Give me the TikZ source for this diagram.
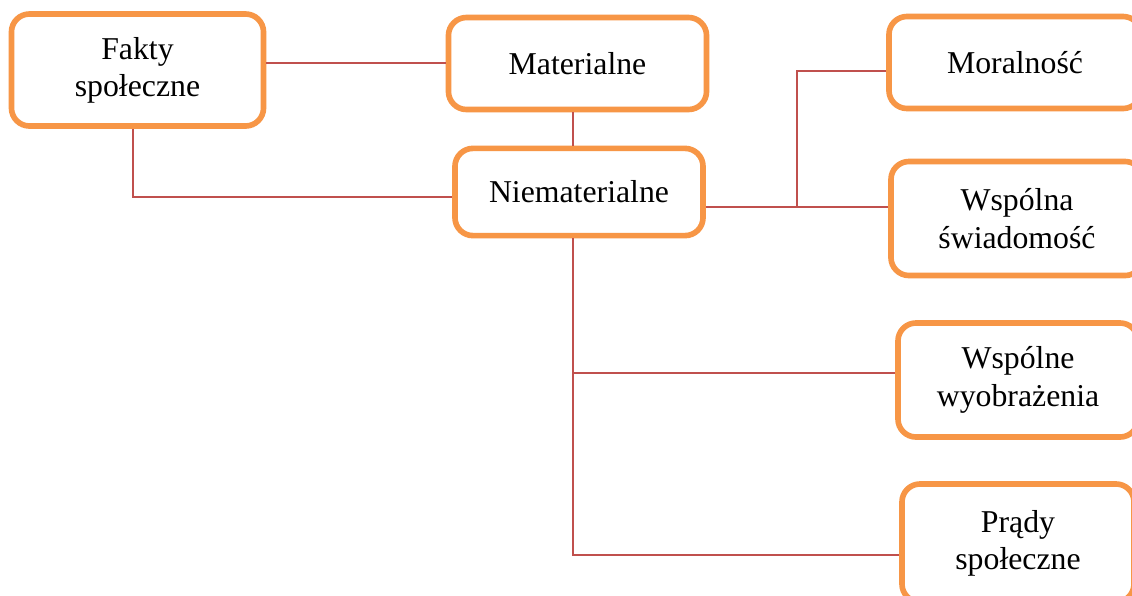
\documentclass[tikz,border=0pt]{standalone}
\usepackage{fontspec}
\setmainfont{Liberation Serif}
\usepackage{tikz}
\usetikzlibrary{arrows,arrows.meta}

\definecolor{pomarancz}{HTML}{F79646}
\definecolor{czerwien}{HTML}{C0504D}

\tikzset{
  blok/.style={draw=pomarancz,line width=4pt,rounded corners=0.45cm,fill=white,
    align=center,font=\fontsize{22.6}{26.5}\selectfont,inner sep=0pt},
  lacze/.style={draw=czerwien,line width=1.3pt}
}

\begin{document}
\begin{tikzpicture}[x=0.025cm,y=-0.025cm]
  \clip (0,0) rectangle (1132,595);
  \fill[white] (0,0) rectangle (1132,595);
  % lewa strona
  \node[blok,minimum width=6.3cm,minimum height=2.8cm] (fakty) at (137.5,70) {Fakty\\społeczne};
  \node[blok,minimum width=6.45cm,minimum height=2.3cm] (mat) at (577.5,63.5) {Materialne};
  \node[blok,minimum width=6.2cm,minimum height=2.18cm] (niemat) at (579,192) {Niematerialne};
  % prawa strona
  \node[blok,minimum width=6.3cm,minimum height=2.3cm] (moral) at (1015,62.5) {Moralność};
  \node[blok,minimum width=6.3cm,minimum height=2.85cm] (swiad) at (1017,218.5) {Wspólna\\świadomość};
  \node[blok,minimum width=6.0cm,minimum height=2.85cm] (wyobr) at (1018,380) {Wspólne\\wyobrażenia};
  \node[blok,minimum width=5.8cm,minimum height=2.95cm] (prady) at (1018,543) {Prądy\\społeczne};
  % punkty rozgalezien
  \coordinate (g0) at (300,63);
  \coordinate (r0) at (797,71);
  \coordinate (r1) at (797,207);
  \coordinate (d1) at (573,373);
  \coordinate (d2) at (573,555);
  \coordinate (l1) at (133,197);
  % polaczenia
  \draw[lacze] (fakty.east |- g0) -- (mat.west |- g0);
  \draw[lacze] (fakty.south -| l1) -- (l1) -- (niemat.west |- l1);
  \draw[lacze] (mat.south -| d1) -- (niemat.north -| d1);
  \draw[lacze] (niemat.east |- r1) -- (swiad.west |- r1);
  \draw[lacze] (r1) -- (r0) -- (moral.west |- r0);
  \draw[lacze] (niemat.south -| d2) -- (d2) -- (prady.west |- d2);
  \draw[lacze] (d1) -- (wyobr.west |- d1);
\end{tikzpicture}
\end{document}
